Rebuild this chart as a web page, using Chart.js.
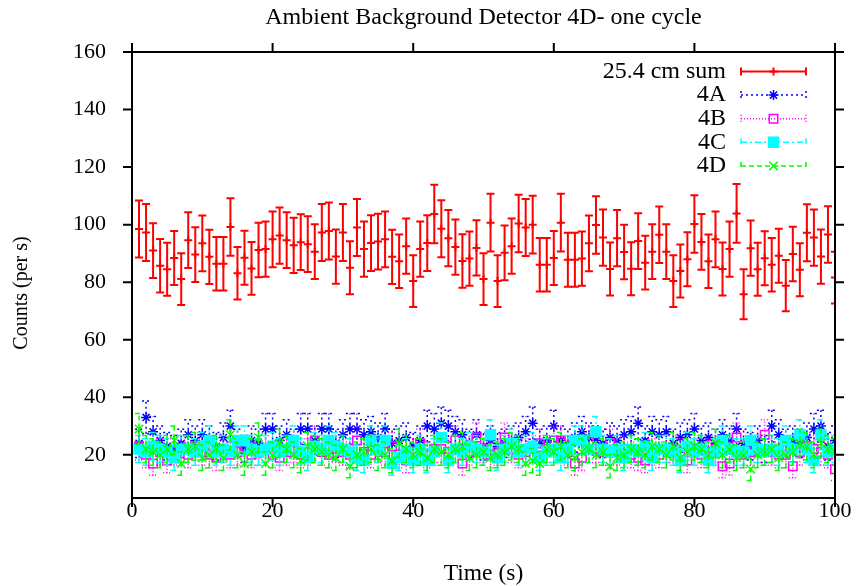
<!DOCTYPE html>
<html>
<head>
<meta charset="utf-8">
<script src="https://cdn.jsdelivr.net/npm/chart.js@4"></script>
<style>
  body { margin: 0; background: #fff; }
  canvas { display: block; }
</style>
</head>
<body>
<canvas id="chart" width="859" height="586"></canvas>
<script>
// ---- data ----
const seriesNames = ['25.4 cm sum', '4A', '4B', '4C', '4D'];
const xTicks = [0, 20, 40, 60, 80, 100];
const yTicks = [20, 40, 60, 80, 100, 120, 140, 160];

const times = [1,2,3,4,5,6,7,8,9,10,11,12,13,14,15,16,17,18,19,20,
  21,22,23,24,25,26,27,28,29,30,31,32,33,34,35,36,37,38,39,40,
  41,42,43,44,45,46,47,48,49,50,51,52,53,54,55,56,57,58,59,60,
  61,62,63,64,65,66,67,68,69,70,71,72,73,74,75,76,77,78,79,80,
  81,82,83,84,85,86,87,88,89,90,91,92,93,94,95,96,97,98,99,100];

const sumVals = [98.5,97.3,91.0,85.7,84.5,88.4,81.1,94.6,89.6,93.5,
  88.8,86.4,86.4,99.2,83.1,88.5,84.8,91.2,91.5,94.9,
  96.2,94.6,92.8,93.9,93.2,90.6,97.3,97.8,88.9,97.3,
  85.0,99.0,91.5,93.6,94.1,94.9,88.8,87.3,92.5,80.4,
  91.5,93.6,103.7,98.6,95.3,92.2,87.4,88.2,91.9,81.1,
  100.7,80.4,90.2,92.5,100.4,99.0,100.0,86.1,86.1,88.4,
  100.7,87.8,87.8,88.2,93.5,99.9,95.5,84.6,95.3,90.5,
  84.7,94.3,86.8,90.6,96.5,90.6,80.4,83.9,88.0,100.2,
  94.0,87.3,94.9,84.6,91.5,103.9,75.8,91.8,84.5,88.3,
  86.1,89.2,78.8,89.8,84.3,97.2,95.5,88.9,96.6,81.6];
const sumErrs = [9.9,9.9,9.5,9.3,9.2,9.4,9.0,9.7,9.5,9.7,
  9.4,9.3,9.3,10.0,9.1,9.4,9.2,9.5,9.6,9.7,
  9.8,9.7,9.6,9.7,9.7,9.5,9.9,9.9,9.4,9.9,
  9.2,9.9,9.6,9.7,9.7,9.7,9.4,9.3,9.6,9.0,
  9.6,9.7,10.2,9.9,9.8,9.6,9.3,9.4,9.6,9.0,
  10.0,9.0,9.5,9.6,10.0,9.9,10.0,9.3,9.3,9.4,
  10.0,9.4,9.4,9.4,9.7,10.0,9.8,9.2,9.8,9.5,
  9.2,9.7,9.3,9.5,9.8,9.5,9.0,9.2,9.4,10.0,
  9.7,9.3,9.7,9.2,9.6,10.2,8.7,9.6,9.2,9.4,
  9.3,9.4,8.9,9.5,9.2,9.9,9.8,9.4,9.8,9.0];

const aVals = [24,33,28,25,23,22,24,27,25,27,
  25,23,26,30,24,22,25,24,29,29,
  25,27,24,29,29,25,29,29,24,27,
  29,29,27,28,26,29,24,25,26,23,
  25,30,29,31,30,28,27,24,27,23,
  25,23,24,25,26,28,31,24,25,30,
  25,24,26,28,26,25,24,26,25,27,
  28,31,25,28,27,28,24,26,27,29,
  25,26,24,27,25,29,24,23,25,22,
  30,27,24,25,24,26,29,30,23,25];
const aErrs = [4.9,5.7,5.3,5.0,4.8,4.7,4.9,5.2,5.0,5.2,
  5.0,4.8,5.1,5.5,4.9,4.7,5.0,4.9,5.4,5.4,
  5.0,5.2,4.9,5.4,5.4,5.0,5.4,5.4,4.9,5.2,
  5.4,5.4,5.2,5.3,5.1,5.4,4.9,5.0,5.1,4.8,
  5.0,5.5,5.4,5.6,5.5,5.3,5.2,4.9,5.2,4.8,
  5.0,4.8,4.9,5.0,5.1,5.3,5.6,4.9,5.0,5.5,
  5.0,4.9,5.1,5.3,5.1,5.0,4.9,5.1,5.0,5.2,
  5.3,5.6,5.0,5.3,5.2,5.3,4.9,5.1,5.2,5.4,
  5.0,5.1,4.9,5.2,5.0,5.4,4.9,4.8,5.0,4.7,
  5.5,5.2,4.9,5.0,4.9,5.1,5.4,5.5,4.8,5.0];

const bVals = [23,20,17,21,18,21,22,20,23,21,
  20,19,22,20,21,22,20,21,22,20,
  19,21,22,20,21,25,21,20,22,21,
  20,25,21,20,22,21,23,20,18,21,
  24,20,22,22,21,25,17,21,26,22,
  20,21,26,22,20,21,22,24,22,25,
  25,21,17,19,25,22,21,24,21,22,
  20,19,18,21,20,22,22,21,18,21,
  20,21,22,16,17,26,20,21,22,27,
  21,20,20,16,21,23,22,21,20,15];
const bErrs = [4.8,4.5,4.1,4.6,4.2,4.6,4.7,4.5,4.8,4.6,
  4.5,4.4,4.7,4.5,4.6,4.7,4.5,4.6,4.7,4.5,
  4.4,4.6,4.7,4.5,4.6,5.0,4.6,4.5,4.7,4.6,
  4.5,5.0,4.6,4.5,4.7,4.6,4.8,4.5,4.2,4.6,
  4.9,4.5,4.7,4.7,4.6,5.0,4.1,4.6,5.1,4.7,
  4.5,4.6,5.1,4.7,4.5,4.6,4.7,4.9,4.7,5.0,
  5.0,4.6,4.1,4.4,5.0,4.7,4.6,4.9,4.6,4.7,
  4.5,4.4,4.2,4.6,4.5,4.7,4.7,4.6,4.2,4.6,
  4.5,4.6,4.7,4.0,4.1,5.1,4.5,4.6,4.7,5.2,
  4.6,4.5,4.5,4.0,4.6,4.8,4.7,4.6,4.5,3.9];

const cVals = [22,21,23,22,21,19,22,22,21,23,
  25,21,22,21,25,25,22,21,22,23,
  21,22,25,21,19,23,22,25,23,22,
  21,19,18,25,22,25,17,19,21,18,
  22,18,21,26,18,22,21,23,22,21,
  27,19,22,24,21,22,23,19,21,22,
  19,22,25,25,22,28,22,21,22,19,
  22,21,23,19,22,22,21,18,23,21,
  22,18,21,25,22,21,21,25,22,21,
  22,21,25,22,27,22,18,27,21,22];
const cErrs = [4.7,4.6,4.8,4.7,4.6,4.4,4.7,4.7,4.6,4.8,
  5.0,4.6,4.7,4.6,5.0,5.0,4.7,4.6,4.7,4.8,
  4.6,4.7,5.0,4.6,4.4,4.8,4.7,5.0,4.8,4.7,
  4.6,4.4,4.2,5.0,4.7,5.0,4.1,4.4,4.6,4.2,
  4.7,4.2,4.6,5.1,4.2,4.7,4.6,4.8,4.7,4.6,
  5.2,4.4,4.7,4.9,4.6,4.7,4.8,4.4,4.6,4.7,
  4.4,4.7,5.0,5.0,4.7,5.3,4.7,4.6,4.7,4.4,
  4.7,4.6,4.8,4.4,4.7,4.7,4.6,4.2,4.8,4.6,
  4.7,4.2,4.6,5.0,4.7,4.6,4.6,5.0,4.7,4.6,
  4.7,4.6,5.0,4.7,5.2,4.7,4.2,5.2,4.6,4.7];

const dVals = [29,22,21,20,22,25,17,22,23,19,
  20,22,19,27,20,17,21,26,17,20,
  24,22,20,18,23,22,21,20,19,22,
  16,20,21,22,19,20,18,24,22,20,
  21,19,22,21,20,22,23,19,20,21,
  19,20,21,23,22,17,18,17,22,21,
  23,20,19,21,22,20,21,16,19,20,
  22,21,20,23,22,20,23,19,21,23,
  22,20,24,20,22,19,20,15,20,21,
  22,19,20,21,24,23,20,24,22,21];
const dErrs = [5.4,4.7,4.6,4.5,4.7,5.0,4.1,4.7,4.8,4.4,
  4.5,4.7,4.4,5.2,4.5,4.1,4.6,5.1,4.1,4.5,
  4.9,4.7,4.5,4.2,4.8,4.7,4.6,4.5,4.4,4.7,
  4.0,4.5,4.6,4.7,4.4,4.5,4.2,4.9,4.7,4.5,
  4.6,4.4,4.7,4.6,4.5,4.7,4.8,4.4,4.5,4.6,
  4.4,4.5,4.6,4.8,4.7,4.1,4.2,4.1,4.7,4.6,
  4.8,4.5,4.4,4.6,4.7,4.5,4.6,4.0,4.4,4.5,
  4.7,4.6,4.5,4.8,4.7,4.5,4.8,4.4,4.6,4.8,
  4.7,4.5,4.9,4.5,4.7,4.4,4.5,3.9,4.5,4.6,
  4.7,4.4,4.5,4.6,4.9,4.8,4.5,4.9,4.7,4.6];

// ---- chart ----
const FONT = 'Liberation Serif, Times New Roman, serif';
const FS = 22;     // tick labels
const FS_BIG = 24; // chart title, x title and key

function points(vals) {
  return times.map((t, i) => ({ x: t, y: vals[i] }));
}

function makeSet(i, vals, errs, color, style, radius, filled, dash, width, order) {
  return {
    label: seriesNames[i],
    data: points(vals),
    errs: errs,
    barDash: dash,
    barWidth: width,
    borderColor: color,
    backgroundColor: filled ? color : 'rgba(0,0,0,0)',
    pointStyle: style,
    pointRadius: radius,
    pointBorderWidth: width,
    showLine: false,
    order: order
  };
}

const datasets = [
  makeSet(0, sumVals, sumErrs, '#ff0000', 'cross', 4, false, [], 2, 4),
  makeSet(1, aVals, aErrs, '#0000ff', 'star', 5, false, [2, 3], 1.5, 3),
  makeSet(2, bVals, bErrs, '#ff00ff', 'rect', 6, false, [1, 2], 1.5, 2),
  makeSet(3, cVals, cErrs, '#00ffff', 'rect', 7, true, [6, 3, 2, 3], 1.5, 1),
  makeSet(4, dVals, dErrs, '#00ff00', 'crossRot', 6, false, [5, 3], 1.5, 0)
];

// vertical error bars drawn just before each dataset's points
const errorBars = {
  id: 'errorBars',
  beforeDatasetDraw(chart, args) {
    const ds = chart.data.datasets[args.index];
    const ys = chart.scales.y;
    const ctx = chart.ctx;
    const area = chart.chartArea;
    const cap = 4;
    ctx.save();
    ctx.beginPath();
    ctx.rect(area.left, area.top, area.right - area.left, area.bottom - area.top);
    ctx.clip();
    ctx.strokeStyle = ds.borderColor;
    ctx.lineWidth = ds.barWidth;
    ctx.setLineDash(ds.barDash);
    args.meta.data.forEach((pt, i) => {
      const v = ds.data[i].y;
      const e = ds.errs[i];
      const y1 = ys.getPixelForValue(v - e);
      const y2 = ys.getPixelForValue(v + e);
      ctx.beginPath();
      ctx.moveTo(pt.x, y1); ctx.lineTo(pt.x, y2);
      ctx.moveTo(pt.x - cap, y1); ctx.lineTo(pt.x + cap, y1);
      ctx.moveTo(pt.x - cap, y2); ctx.lineTo(pt.x + cap, y2);
      ctx.stroke();
    });
    ctx.restore();
  }
};

// frame, outward ticks, titles and key in the gnuplot manner
const frame = {
  id: 'frame',
  afterDraw(chart) {
    const ctx = chart.ctx;
    const a = chart.chartArea;
    const xs = chart.scales.x, ys = chart.scales.y;
    const tl = 9;
    ctx.save();
    ctx.strokeStyle = '#000';
    ctx.lineWidth = 2;
    ctx.setLineDash([]);
    ctx.strokeRect(a.left, a.top, a.right - a.left, a.bottom - a.top);
    ctx.beginPath();
    yTicks.forEach(v => {
      const y = ys.getPixelForValue(v);
      ctx.moveTo(a.left - tl, y); ctx.lineTo(a.left, y);
      ctx.moveTo(a.right, y); ctx.lineTo(a.right + tl, y);
    });
    xTicks.forEach(v => {
      const x = xs.getPixelForValue(v);
      ctx.moveTo(x, a.bottom); ctx.lineTo(x, a.bottom + tl);
      ctx.moveTo(x, a.top - tl); ctx.lineTo(x, a.top);
    });
    ctx.stroke();

    // chart title
    ctx.fillStyle = '#000';
    ctx.font = FS_BIG + 'px ' + FONT;
    ctx.textAlign = 'center';
    ctx.textBaseline = 'middle';
    ctx.fillText('Ambient Background Detector 4D- one cycle', (a.left + a.right) / 2, 18);

    // y axis title, centred on the whole canvas height
    ctx.save();
    ctx.font = '20px ' + FONT;
    ctx.translate(22, 293);
    ctx.rotate(-Math.PI / 2);
    ctx.fillText('Counts (per s)', 0, 0);
    ctx.restore();

    // key
    const rowY0 = 71.5, rowDy = 23.6;
    const textRight = 726, x1 = 741, x2 = 806, xm = 773.5;
    ctx.font = FS_BIG + 'px ' + FONT;
    chart.data.datasets.forEach((ds, i) => {
      const y = rowY0 + i * rowDy;
      ctx.fillStyle = '#000';
      ctx.textAlign = 'right';
      ctx.fillText(ds.label, textRight, y);
      ctx.strokeStyle = ds.borderColor;
      ctx.lineWidth = ds.barWidth;
      ctx.setLineDash(ds.barDash);
      ctx.beginPath();
      ctx.moveTo(x1, y); ctx.lineTo(x2, y);
      ctx.moveTo(x1, y - 4); ctx.lineTo(x1, y + 4);
      ctx.moveTo(x2, y - 4); ctx.lineTo(x2, y + 4);
      ctx.stroke();
      ctx.setLineDash([]);
      ctx.fillStyle = ds.backgroundColor;
      Chart.helpers.drawPoint(ctx, {
        pointStyle: ds.pointStyle, radius: ds.pointRadius, rotation: 0, borderWidth: ds.barWidth
      }, xm, y);
    });
    ctx.restore();
  }
};

new Chart(document.getElementById('chart'), {
  type: 'scatter',
  data: { datasets: datasets },
  options: {
    responsive: false,
    animation: false,
    devicePixelRatio: 1,
    layout: { padding: { top: 52, right: 24, bottom: 0, left: 0 } },
    plugins: {
      legend: { display: false },
      tooltip: { enabled: false },
      title: { display: false }
    },
    scales: {
      x: {
        type: 'linear',
        min: 0,
        max: 100,
        afterFit: s => { s.height = 88; },
        afterBuildTicks: s => { s.ticks = xTicks.map(v => ({ value: v })); },
        grid: { display: false, drawTicks: false },
        border: { display: false },
        ticks: { color: '#000', padding: 0, maxRotation: 0, font: { family: FONT, size: FS } },
        title: {
          display: true, text: 'Time (s)', color: '#000',
          padding: { top: 0, bottom: 0 },
          font: { family: FONT, size: 23.5, lineHeight: 1 }
        }
      },
      y: {
        type: 'linear',
        min: 5,
        max: 160,
        afterFit: s => { s.width = 132; },
        afterBuildTicks: s => { s.ticks = yTicks.map(v => ({ value: v })); },
        grid: { display: false, drawTicks: false },
        border: { display: false },
        ticks: { color: '#000', padding: 26, font: { family: FONT, size: FS } },
        title: { display: false }
      }
    }
  },
  plugins: [errorBars, frame]
});
</script>
</body>
</html>
